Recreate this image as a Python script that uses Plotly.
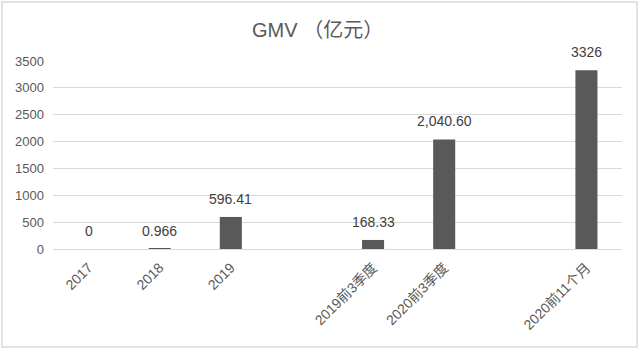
import plotly.graph_objects as go

categories = ["2017", "2018", "2019", " ", "2019前3季度", "2020前3季度", "  ", "2020前11个月"]
gmv = [0, 0.966, 596.41, None, 168.33, 2040.60, None, 3326]
labels = ["0", "0.966", "596.41", "", "168.33", "2,040.60", "", "3326"]
y_ticks = [0, 500, 1000, 1500, 2000, 2500, 3000, 3500]

W, H = 640, 351
ml, mr, mt, mb = 53, 18, 61, 102
pw, ph = W - ml - mr, H - mt - mb

font_fam = "Liberation Sans, Arial, Noto Sans CJK SC, sans-serif"

fig = go.Figure(go.Bar(
    x=categories, y=gmv,
    marker=dict(color="#595959", line=dict(width=0)),
    width=0.31, hoverinfo="skip",
))

# annotations placed via category index on the category axis
annotations = [
    dict(x=i, y=v, text=t, xref="x", yref="y", showarrow=False,
         yanchor="bottom", xanchor="center", yshift=8,
         font=dict(size=14, color="#404040", family=font_fam))
    for i, (v, t) in enumerate(zip(gmv, labels)) if v is not None
]

fig.update_layout(
    width=W, height=H,
    margin=dict(l=ml, r=mr, t=mt, b=mb),
    paper_bgcolor="white", plot_bgcolor="white",
    showlegend=False,
    font=dict(family=font_fam, color="#595959"),
    title=dict(text="GMV （亿元）", x=0.465, xref="paper", xanchor="center",
               y=1 - 30 / H, yanchor="middle",
               font=dict(size=20, color="#595959", family=font_fam)),
    xaxis=dict(type="category", categoryorder="array", categoryarray=categories,
               tickangle=-45, tickfont=dict(size=14, color="#595959"),
               showgrid=False, showline=True, linecolor="#d9d9d9", linewidth=1,
               ticks="", ticklen=0, range=[-0.5, 7.5], ticklabelstandoff=4),
    yaxis=dict(range=[0, 3500], tickvals=y_ticks, tickfont=dict(size=13, color="#595959"),
               showgrid=True, gridcolor="#d9d9d9", gridwidth=1, zeroline=False,
               showline=False, ticks="", ticklabelstandoff=8),
    annotations=annotations,
    shapes=[dict(type="rect", xref="paper", yref="paper",
                 x0=(2 - ml) / pw, x1=(637 - ml) / pw,
                 y0=(H - mb - 347) / ph, y1=(H - mb - 2) / ph,
                 line=dict(color="#d9d9d9", width=1.5), fillcolor="rgba(0,0,0,0)", layer="below")],
)

fig.write_html("out.html")
